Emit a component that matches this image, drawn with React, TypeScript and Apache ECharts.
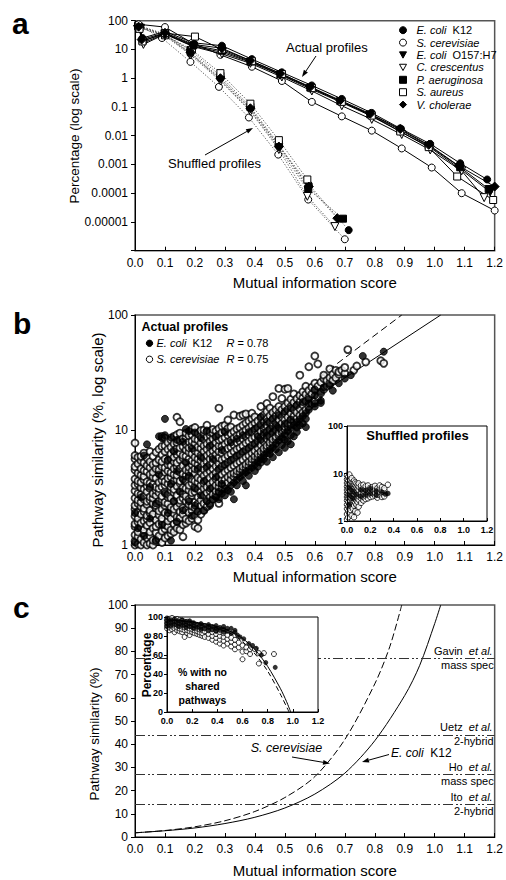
import React, { useEffect, useRef } from 'react';
import * as echarts from 'echarts';

const FONT = '"Liberation Sans", Arial, Helvetica, sans-serif';

// ---------------- Panel a : distribution of mutual information scores ----------------
const aSpeciesNames = ['E. coli K12', 'S. cerevisiae', 'E. coli O157:H7', 'C. crescentus', 'P. aeruginosa', 'S. aureus', 'V. cholerae'];

const aEcoliK12Actual = [[0.015, 60], [0.025, 25], [0.1, 42], [0.195, 17], [0.29, 13.5], [0.39, 4.6], [0.49, 1.6], [0.59, 0.56], [0.69, 0.19], [0.79, 0.062], [0.885, 0.018], [0.985, 0.0052], [1.085, 0.0011], [1.175, 0.0003]];
const aCerevisiaeActual = [[0.012, 75], [0.1, 60], [0.19, 17], [0.285, 6.5], [0.39, 2.5], [0.49, 0.8], [0.59, 0.15], [0.69, 0.047], [0.79, 0.015], [0.89, 0.0036], [0.99, 0.00078], [1.09, 0.0001], [1.2, 0.000025]];
const aEcoliO157Actual = [[0.018, 55], [0.028, 17], [0.1, 35], [0.195, 13], [0.29, 8], [0.385, 3.6], [0.485, 1.3], [0.585, 0.43], [0.685, 0.15], [0.785, 0.05], [0.885, 0.014], [0.98, 0.0042], [1.085, 0.0007], [1.185, 0.00011]];
const aCrescentusActual = [[0.018, 50], [0.028, 15], [0.1, 34], [0.195, 12.5], [0.29, 7], [0.385, 3.3], [0.49, 1.1], [0.59, 0.36], [0.69, 0.11], [0.79, 0.037], [0.89, 0.011], [0.985, 0.0032], [1.09, 0.0006], [1.165, 0.00007]];
const aAeruginosaActual = [[0.015, 58], [0.025, 20], [0.1, 36], [0.195, 14], [0.29, 9], [0.385, 3.8], [0.485, 1.35], [0.585, 0.47], [0.685, 0.16], [0.785, 0.055], [0.885, 0.016], [0.98, 0.0045], [1.085, 0.0008], [1.18, 0.00014]];
const aAureusActual = [[0.015, 52], [0.025, 19], [0.1, 37], [0.2, 28], [0.29, 10], [0.39, 3.9], [0.49, 1.4], [0.59, 0.45], [0.69, 0.15], [0.79, 0.05], [0.885, 0.014], [0.98, 0.004], [1.075, 0.00038], [1.195, 0.000058]];
const aCholeraeActual = [[0.012, 62], [0.022, 22], [0.1, 38], [0.195, 15], [0.29, 11], [0.385, 4.1], [0.485, 1.45], [0.585, 0.5], [0.685, 0.17], [0.785, 0.058], [0.885, 0.017], [0.98, 0.0048], [1.08, 0.0009], [1.2, 0.00017]];

const aEcoliK12Shuffled = [[0.01, 70], [0.1, 33], [0.185, 7], [0.285, 0.95], [0.385, 0.085], [0.48, 0.0045], [0.58, 0.0002], [0.713, 0.0000052]];
const aCerevisiaeShuffled = [[0.01, 70], [0.09, 25], [0.185, 3.7], [0.28, 0.5], [0.38, 0.043], [0.478, 0.0022], [0.578, 0.00006], [0.7, 0.0000025]];
const aEcoliO157Shuffled = [[0.012, 60], [0.1, 30], [0.185, 7.5], [0.285, 0.85], [0.385, 0.075], [0.48, 0.0038], [0.578, 0.00012]];
const aCrescentusShuffled = [[0.012, 58], [0.1, 30], [0.185, 6.5], [0.285, 0.8], [0.385, 0.07], [0.48, 0.0033], [0.575, 0.000078], [0.667, 0.0000069]];
const aAeruginosaShuffled = [[0.01, 65], [0.1, 32], [0.185, 9.5], [0.285, 1.2], [0.385, 0.1], [0.48, 0.005], [0.578, 0.00014], [0.694, 0.000013]];
const aAureusShuffled = [[0.012, 62], [0.1, 31], [0.19, 9.8], [0.285, 1.5], [0.385, 0.13], [0.48, 0.007], [0.575, 0.0003]];
const aCholeraeShuffled = [[0.01, 68], [0.1, 34], [0.185, 8], [0.285, 1.0], [0.385, 0.09], [0.48, 0.0042], [0.58, 0.00017], [0.675, 0.0000135]];

const aYTickLabels = ['', '0.00001', '0.0001', '0.001', '0.01', '0.1', '1', '10', '100']; // 1e-6 .. 1e2

// ---------------- Panel b : pathway similarity vs MI (log) ----------------
// each row: [x, y1, y2, ...]
const bCerevisiaeCols: number[][] = [
  [0.00, 1.0, 1.08, 1.22, 1.45, 1.52, 1.78, 2.05, 2.2, 2.55, 2.95, 3.3, 3.75, 4.5, 4.8, 5.6, 6.0, 7.7],
  [0.01, 1.02, 1.18, 1.3, 1.58, 1.7, 1.92, 2.3, 2.45, 2.8, 3.4, 3.6, 4.2, 5.1, 5.8],
  [0.02, 1.0, 1.12, 1.42, 1.55, 1.85, 2.15, 2.35, 2.75, 3.15, 3.5, 4.05, 4.6, 5.4, 5.9],
  [0.03, 1.05, 1.25, 1.35, 1.62, 1.95, 2.08, 2.5, 2.65, 3.05, 3.7, 3.95, 4.45, 5.2, 6.3],
  [0.04, 1.0, 1.15, 1.48, 1.68, 1.8, 2.25, 2.4, 2.9, 3.25, 3.55, 4.35, 4.9, 5.7],
  [0.05, 1.03, 1.2, 1.3, 1.56, 1.9, 2.0, 2.45, 2.62, 3.1, 3.45, 4.1, 4.7, 5.3, 6.5],
  [0.06, 1.0, 1.1, 1.4, 1.75, 1.85, 2.3, 2.55, 2.8, 3.35, 3.9, 4.3, 5.0, 5.9],
  [0.07, 1.08, 1.28, 1.45, 1.65, 2.1, 2.2, 2.7, 3.0, 3.2, 3.8, 4.6, 5.2, 6.4],
  [0.08, 1.12, 1.2, 1.52, 1.82, 1.98, 2.4, 2.85, 3.1, 3.5, 4.2, 4.5, 5.5, 6.8],
  [0.09, 1.05, 1.32, 1.6, 1.7, 2.05, 2.5, 2.65, 3.2, 3.65, 4.0, 4.8, 5.3, 6.1, 7.2, 8.8],
  [0.10, 1.15, 1.38, 1.5, 1.9, 2.2, 2.35, 2.9, 3.3, 3.55, 4.3, 4.7, 5.6, 6.5, 7.3, 8.5],
  [0.11, 1.2, 1.45, 1.62, 1.8, 2.28, 2.6, 2.75, 3.4, 3.8, 4.4, 5.0, 5.4, 6.8, 7.8],
  [0.12, 1.25, 1.35, 1.7, 2.0, 2.12, 2.55, 3.0, 3.2, 3.9, 4.25, 4.9, 5.6, 6.2, 7.1, 8.2],
  [0.13, 1.3, 1.52, 1.88, 2.05, 2.4, 2.85, 3.05, 3.6, 4.1, 4.6, 5.3, 5.8, 6.6, 7.6, 8.8],
  [0.14, 1.4, 1.6, 1.75, 2.15, 2.6, 2.7, 3.25, 3.7, 4.05, 4.8, 5.2, 6.1, 6.9, 7.8, 9.1, 12.9],
  [0.15, 1.36, 1.72, 1.95, 2.3, 2.45, 2.95, 3.45, 3.6, 4.3, 4.6, 5.5, 6.3, 7.0, 8.1, 9.4, 11.8],
  [0.16, 1.18, 1.5, 1.85, 2.1, 2.55, 2.8, 3.15, 3.8, 4.15, 4.9, 5.7, 6.0, 7.2, 8.4],
  [0.17, 1.55, 1.68, 2.02, 2.4, 2.65, 3.1, 3.6, 4.0, 4.5, 5.3, 5.9, 6.7, 7.5, 8.6, 9.4],
  [0.18, 1.62, 1.92, 2.25, 2.5, 3.0, 3.3, 3.9, 4.35, 4.75, 5.6, 6.4, 7.0, 7.9, 8.9],
  [0.19, 1.7, 2.0, 2.18, 2.7, 2.85, 3.45, 3.75, 4.4, 5.0, 5.4, 6.2, 7.3, 8.0, 9.1, 10.2],
  [0.20, 1.45, 1.8, 2.1, 2.35, 2.9, 3.2, 3.6, 4.2, 4.6, 5.2, 5.8, 6.6, 7.6, 8.4, 9.6, 10.5],
  [0.21, 1.4, 1.65, 1.95, 2.28, 2.6, 3.05, 3.5, 3.85, 4.5, 5.0, 5.6, 6.3, 7.1, 8.2, 9.3],
  [0.22, 1.85, 2.2, 2.45, 2.9, 3.3, 3.7, 4.3, 4.75, 5.4, 6.0, 6.9, 7.7, 8.8, 9.9],
  [0.23, 2.0, 2.3, 2.7, 3.1, 3.45, 4.0, 4.55, 5.1, 5.75, 6.5, 7.3, 8.3, 9.2, 10],
  [0.24, 2.15, 2.45, 2.85, 3.2, 3.65, 4.2, 4.7, 5.3, 6.0, 6.8, 7.6, 8.7, 9.7, 11],
  [0.25, 2.3, 2.6, 2.95, 3.4, 3.85, 4.4, 5.0, 5.6, 6.3, 7.1, 8.0, 9.0, 9.6],
  [0.26, 2.5, 2.75, 3.15, 3.55, 4.05, 4.6, 5.2, 5.9, 6.6, 7.4, 8.4, 9.4, 10.1],
  [0.27, 2.7, 2.95, 3.3, 3.75, 4.25, 4.85, 5.5, 6.1, 6.9, 7.8, 8.7, 9.8],
  [0.28, 2.3, 2.9, 3.2, 3.5, 3.95, 4.5, 5.1, 5.75, 6.5, 7.3, 8.2, 9.1, 10.3, 15.5],
  [0.29, 3.1, 3.4, 3.7, 4.1, 4.8, 5.5, 6.3, 7.2, 8.3, 9.5, 10.8],
  [0.30, 3.3, 3.7, 4.3, 5.0, 5.7, 6.6, 7.5, 8.6, 9.8, 11],
  [0.31, 3.5, 3.9, 4.5, 5.2, 6.0, 6.9, 7.9, 9.0, 10.3, 12.2],
  [0.32, 3.7, 4.1, 4.7, 5.4, 6.2, 7.1, 8.1, 9.3, 10.6],
  [0.33, 3.9, 4.2, 4.9, 5.6, 6.5, 7.4, 8.5, 9.7, 13.5],
  [0.34, 4.1, 4.4, 5.1, 5.9, 6.8, 7.8, 8.9, 10.2],
  [0.35, 4.3, 4.6, 5.3, 6.1, 7.0, 8.0, 9.2, 10.5, 13.2],
  [0.36, 4.5, 4.8, 5.5, 6.4, 7.3, 8.4, 9.6, 11, 13.5],
  [0.37, 4.7, 5.0, 5.8, 6.7, 7.7, 8.8, 10, 11.5, 13.8],
  [0.38, 4.9, 5.3, 6.0, 6.9, 8.0, 9.1, 10.4, 12],
  [0.39, 5.2, 5.6, 6.3, 7.3, 8.4, 9.6, 11, 12.6, 14],
  [0.40, 5.5, 5.9, 6.6, 7.6, 8.7, 10, 11.5, 13],
  [0.41, 5.8, 6.2, 7.0, 8.0, 9.2, 10.5, 12],
  [0.42, 6.1, 6.5, 7.4, 8.5, 9.7, 11.2, 12.8, 16],
  [0.43, 6.5, 6.9, 7.9, 9.0, 10.3, 11.8, 13.5],
  [0.44, 6.9, 7.3, 8.4, 9.6, 11, 12.5, 14.5, 17],
  [0.45, 7.3, 7.8, 8.8, 10.1, 11.6, 13.3, 15.5],
  [0.46, 7.8, 8.3, 9.4, 10.8, 12.4, 14.2, 19.5],
  [0.47, 8.3, 8.8, 10, 11.5, 13.2, 15],
  [0.48, 8.9, 9.4, 10.7, 12.3, 14, 16, 23],
  [0.49, 9.5, 10, 11.4, 13, 15, 18.8],
  [0.50, 10.1, 10.7, 12.2, 14, 16, 22.6],
  [0.51, 10.7, 11.4, 13, 15, 17.2, 23],
  [0.52, 11.3, 12.3, 14, 16, 18.5],
  [0.53, 12, 13.2, 15.1, 17.3, 20.6],
  [0.54, 12.6, 14.2, 16.3, 18.7],
  [0.55, 13.4, 15.3, 17.5, 20, 30],
  [0.56, 14.2, 16.5, 19, 21.5],
  [0.57, 15, 17.8, 20.4, 24],
  [0.58, 16, 19.2, 22, 35.5],
  [0.59, 17, 20.5, 23.5],
  [0.60, 18, 22.3, 25.5, 44],
  [0.61, 19.5, 24, 37.5],
  [0.62, 21, 26],
  [0.63, 22.6, 28, 30],
  [0.64, 24, 27],
  [0.65, 25.5, 28.5, 34],
  [0.66, 27, 30.5],
  [0.67, 28.5, 33],
  [0.68, 30.5, 32],
  [0.69, 33],
  [0.70, 31, 35],
  [0.71, 50],
  [0.73, 33],
  [0.74, 36],
  [0.77, 39],
  [0.82, 40],
  [0.83, 38],
];

const bEcoliCols: number[][] = [
  [0.00, 1.05, 1.9], [0.01, 1.4], [0.02, 2.6], [0.03, 6.0, 1.2], [0.04, 7.5], [0.05, 1.7, 3.2],
  [0.07, 1.1, 2.3], [0.08, 8.8, 4.1], [0.09, 8.5, 1.5], [0.10, 9.0, 12.5, 2.8], [0.11, 1.9, 5.5],
  [0.12, 1.09, 8.6, 3.4], [0.13, 2.4, 6.5], [0.14, 8.2, 1.6, 4.4], [0.15, 2.9], [0.16, 7.9, 3.7, 2.0],
  [0.17, 10.2, 5.2], [0.18, 2.4, 9.8, 4.0], [0.19, 1.8, 6.9], [0.20, 9.5, 3.1, 2.2], [0.21, 1.95, 4.6],
  [0.22, 2.7, 8.5, 5.8], [0.23, 3.6, 2.0], [0.24, 2.4, 9.9, 4.8], [0.25, 2.2, 7.3, 3.1], [0.26, 2.5, 5.6],
  [0.27, 2.6, 3.9, 8.8], [0.28, 2.5, 2.9, 4.6], [0.29, 2.8, 3.4, 6.7], [0.30, 2.7, 3.1, 5.0, 9.6],
  [0.31, 3.0],
  [0.32, 2.9, 3.3, 5.5, 7.8],
  [0.33, 2.5, 3.5],
  [0.34, 3.3, 3.7, 6.0, 8.4],
  [0.35, 3.9],
  [0.36, 3.6, 4.1, 6.5, 9.0],
  [0.37, 3.3, 4.3],
  [0.38, 4.0, 4.5, 7.0, 9.6],
  [0.39, 4.7],
  [0.40, 4.4, 5.0, 7.6, 10.3],
  [0.41, 4.8, 5.3, 8.8],
  [0.42, 5.2, 5.6, 8.2, 11, 13],
  [0.43, 5.6, 6.0, 9.5],
  [0.44, 5.3, 6.3, 8.9, 11.8],
  [0.45, 6.2, 6.7, 10.3],
  [0.46, 5.8, 7.1, 9.6, 12.6],
  [0.47, 6.8, 7.6, 11],
  [0.48, 6.4, 8.1, 10.4, 13.5],
  [0.49, 7.4, 8.6],
  [0.50, 7.0, 8.2, 9.2, 11.3, 14.5],
  [0.51, 8.0, 9.8],
  [0.52, 7.5, 9.0, 10.4, 12.3, 15.5],
  [0.53, 8.8, 11],
  [0.54, 9.6, 10.5, 11.7, 16.5],
  [0.55, 11, 12.4],
  [0.56, 11.4, 13.2, 17.5],
  [0.57, 10.6, 12.5, 14],
  [0.58, 15, 17, 18.6],
  [0.60, 16, 17, 20, 22.5],
  [0.62, 17.2, 18, 21.5],
  [0.63, 23.5],
  [0.65, 24.5],
  [0.66, 22],
  [0.68, 25.5],
  [0.70, 28],
  [0.72, 30],
  [0.76, 44],
  [0.83, 48],
];

// regression lines (straight on log scale)
const bEcoliFit = [[0, 1.8], [1.02, 100]];
const bCerevisiaeFit = [[0, 1.8], [0.89, 100]];
const bYTickLabels = ['1', '10', '100'];

// inset: shuffled profiles
const bShuffledOpenCols: number[][] = [
  [0.00, 1.1, 1.4, 1.8, 2.2, 2.7, 3.2, 3.8, 4.5, 5.3, 6.3, 7.5, 9],
  [0.01, 1.2, 1.6, 2.0, 2.5, 3.0, 3.5, 4.1, 4.9, 5.8, 7.0, 8.5],
  [0.02, 1.5, 1.9, 2.3, 2.8, 3.3, 3.9, 4.6, 5.5, 6.5, 7.8, 9.5],
  [0.03, 1.7, 2.1, 2.6, 3.1, 3.6, 4.3, 5.1, 6.0, 7.2],
  [0.04, 1.3, 2.0, 2.4, 2.9, 3.4, 4.0, 4.7, 5.6, 6.6, 8],
  [0.05, 1.8, 2.3, 2.8, 3.3, 3.9, 4.6, 5.4, 6.4],
  [0.06, 1.2, 2.1, 2.6, 3.1, 3.6, 4.3, 5.0, 6.0, 7.1],
  [0.07, 1.6, 2.4, 2.9, 3.4, 4.0, 4.7, 5.5, 6.5],
  [0.08, 2.2, 2.7, 3.2, 3.7, 4.4, 5.2, 6.1],
  [0.09, 1.5, 2.5, 3.0, 3.5, 4.1, 4.8, 5.7],
  [0.10, 2.0, 2.8, 3.3, 3.8, 4.5, 5.3, 6.2],
  [0.12, 2.4, 3.0, 3.5, 4.1, 4.8, 5.6],
  [0.14, 2.7, 3.2, 3.7, 4.3, 5.0, 5.8],
  [0.16, 2.9, 3.4, 4.0, 4.6, 5.4],
  [0.18, 3.0, 3.5, 4.1, 4.8, 5.6],
  [0.20, 3.2, 3.7, 4.3, 5.0],
  [0.22, 3.3, 3.9, 4.5, 5.2],
  [0.24, 3.4, 4.0, 4.7, 5.5],
  [0.26, 3.1, 3.6, 4.2, 4.9],
  [0.28, 3.5, 4.1, 4.8, 5.6],
  [0.30, 3.2, 3.8, 4.5, 5.2],
  [0.32, 3.3, 4.4, 4.9],
  [0.35, 5.8],
];
const bShuffledFilledCols: number[][] = [
  [0.02, 2.2, 3.5, 5.0],
  [0.05, 3.0, 4.2],
  [0.08, 3.6],
  [0.12, 3.3, 4.5],
  [0.16, 3.6, 4.4],
  [0.20, 3.8, 4.8],
  [0.25, 3.5, 4.3],
  [0.30, 4.0],
  [0.33, 3.7],
  [0.35, 3.8],
];

// ---------------- Panel c : pathway similarity (linear) ----------------
const cEcoliCurve = [[0, 1.8], [0.1, 2.7], [0.2, 3.9], [0.3, 5.8], [0.4, 8.5], [0.5, 12.5], [0.6, 18.5], [0.7, 27.5], [0.8, 41.5], [0.9, 61], [0.95, 74], [1.0, 92], [1.02, 100]];
const cCerevisiaeCurve = [[0, 1.8], [0.1, 2.8], [0.2, 4.4], [0.3, 7], [0.4, 11], [0.5, 17], [0.6, 26], [0.7, 42], [0.8, 66], [0.85, 82], [0.89, 100]];
const cRefValues = [77, 44, 27, 14];
const cRefNames = ['Gavin', 'Uetz', 'Ho', 'Ito'];
const cRefMethods = ['mass spec', '2-hybrid', 'mass spec', '2-hybrid'];

// inset: % with no shared pathways
const cInsetCerevisiaeCols: number[][] = [
  [0.00, 88, 91, 94, 97], [0.02, 86, 89, 92, 95, 98], [0.04, 87, 90, 93, 96, 99], [0.06, 84, 88, 91, 94, 97],
  [0.08, 86, 89, 92, 95, 98], [0.10, 85, 88, 91, 94, 97], [0.12, 84, 87, 90, 93, 96], [0.14, 79, 86, 89, 92, 95],
  [0.16, 83, 86, 89, 92, 95], [0.18, 81, 85, 88, 91, 94], [0.20, 84, 87, 90, 93], [0.22, 83, 86, 89, 92],
  [0.24, 82, 85, 88, 91], [0.26, 81, 84, 87, 90], [0.28, 80, 83, 86, 89], [0.30, 79, 85, 88],
  [0.33, 78, 82, 86], [0.36, 76, 80, 84, 87], [0.39, 74, 78, 82, 86], [0.42, 72, 76, 80, 84],
  [0.45, 70, 75, 79, 83], [0.48, 72, 77, 81], [0.51, 69, 74, 78], [0.54, 66, 71, 76], [0.57, 68, 73],
  [0.60, 55.5, 63.5, 70], [0.63, 64, 68], [0.66, 61, 66], [0.70, 66], [0.73, 51, 62], [0.77, 62], [0.85, 61],
];
const cInsetEcoliCols: number[][] = [
  [0.00, 90, 93, 96, 99], [0.03, 91, 94, 97], [0.06, 92, 95, 98], [0.09, 90, 93, 96], [0.12, 91, 94, 97],
  [0.15, 89, 92, 95], [0.18, 90, 93, 96], [0.21, 88, 91, 94], [0.24, 89, 92], [0.27, 87, 90, 93],
  [0.30, 88, 91], [0.33, 86, 89, 92], [0.36, 87, 90], [0.39, 85, 88, 91], [0.42, 86, 89],
  [0.45, 84, 87, 90], [0.48, 85, 88], [0.51, 83, 88], [0.54, 84, 86], [0.56, 81], [0.58, 79],
  [0.61, 77], [0.65, 72], [0.68, 70], [0.71, 67], [0.75, 60], [0.785, 52], [0.86, 47],
];
const cInsetEcoliCurve = [[0, 97], [0.1, 96.5], [0.2, 95], [0.3, 93], [0.4, 90], [0.5, 85], [0.6, 77.5], [0.7, 65.5], [0.8, 48], [0.9, 25], [0.95, 11], [0.983, 0]];
const cInsetCerevisiaeCurve = [[0, 97], [0.1, 96], [0.2, 94.5], [0.3, 92], [0.4, 88], [0.5, 83], [0.6, 74], [0.7, 61], [0.8, 43], [0.9, 19], [0.97, 0]];

// ---------------- helpers ----------------
const colsToPoints = (cols: number[][]) => cols.flatMap(([x, ...ys]) => ys.map((y) => [x, y]));
const fmt1 = (v: number) => v.toFixed(1);
const logLabel = (labels: string[], offset: number) => (v: number) => labels[Math.round(Math.log10(v)) + offset] ?? '';

const aSymbols = [
  { symbol: 'circle', rotate: 0, size: 7, fill: '#000', icon: 'circle' },
  { symbol: 'circle', rotate: 0, size: 7, fill: '#fff', icon: 'circle' },
  { symbol: 'triangle', rotate: 180, size: 8, fill: '#000', icon: 'path://M0,0L10,0L5,9Z' },
  { symbol: 'triangle', rotate: 180, size: 8, fill: '#fff', icon: 'path://M0,0L10,0L5,9Z' },
  { symbol: 'rect', rotate: 0, size: 7, fill: '#000', icon: 'rect' },
  { symbol: 'rect', rotate: 0, size: 7, fill: '#fff', icon: 'rect' },
  { symbol: 'diamond', rotate: 0, size: 9, fill: '#000', icon: 'diamond' },
];

function arrow(x1: number, y1: number, x2: number, y2: number) {
  const ang = Math.atan2(y2 - y1, x2 - x1);
  const L = 7, W = 2.4;
  const bx = x2 - L * Math.cos(ang), by = y2 - L * Math.sin(ang);
  const px = -Math.sin(ang) * W, py = Math.cos(ang) * W;
  return [
    { type: 'line', z: 100, silent: true, shape: { x1, y1, x2: bx, y2: by }, style: { stroke: '#000', lineWidth: 1 } },
    { type: 'polygon', z: 100, silent: true, shape: { points: [[x2, y2], [bx + px, by + py], [bx - px, by - py]] }, style: { fill: '#000' } },
  ];
}

function text(x: number, y: number, t: string, o: any = {}) {
  return {
    type: 'text', z: 100, silent: true, x, y, rotation: o.rotation ?? 0,
    style: {
      text: t, fill: '#000', fontFamily: FONT, fontSize: o.size ?? 12, fontWeight: o.weight ?? 'normal',
      fontStyle: o.style ?? 'normal', align: o.align ?? 'left', verticalAlign: 'middle',
      lineHeight: o.lineHeight, rich: o.rich,
    },
  };
}

const italicRich = (size: number) => ({
  i: { fontStyle: 'italic', fontSize: size, fontFamily: FONT, color: '#000' },
  n: { fontSize: size, fontFamily: FONT, color: '#000' },
});

function mainX(gridIndex: number) {
  return {
    type: 'value', gridIndex, min: 0, max: 1.2, interval: 0.1,
    name: 'Mutual information score', nameLocation: 'middle', nameGap: 24,
    nameTextStyle: { fontFamily: FONT, fontSize: 15, color: '#000' },
    axisLine: { show: true, lineStyle: { color: '#000', width: 1 } },
    axisTick: { show: true, inside: true, length: 4, lineStyle: { color: '#000' } },
    axisLabel: { fontFamily: FONT, fontSize: 12, color: '#000', margin: 6, formatter: fmt1 },
    splitLine: { show: false },
  };
}

function mainY(gridIndex: number) {
  return {
    gridIndex,
    axisLine: { show: true, lineStyle: { color: '#000', width: 1 } },
    axisTick: { show: true, length: 4, lineStyle: { color: '#000' } },
    splitLine: { show: false }, minorTick: { show: false },
  };
}

function insetAxisCommon() {
  return {
    z: 12,
    axisLine: { show: true, onZero: false, lineStyle: { color: '#000', width: 1 } },
    axisTick: { show: true, length: 3, lineStyle: { color: '#000' } },
    axisLabel: { fontFamily: FONT, fontSize: 9, fontWeight: 'bold', color: '#000', margin: 4 },
    splitLine: { show: false },
  };
}

export default function App() {
  const ref = useRef<HTMLDivElement>(null);

  useEffect(() => {
    if (!ref.current) return;
    const chart = echarts.init(ref.current, undefined, { renderer: 'svg' });

    const series: any[] = [];
    const aActual = [aEcoliK12Actual, aCerevisiaeActual, aEcoliO157Actual, aCrescentusActual, aAeruginosaActual, aAureusActual, aCholeraeActual];
    const aShuffled = [aEcoliK12Shuffled, aCerevisiaeShuffled, aEcoliO157Shuffled, aCrescentusShuffled, aAeruginosaShuffled, aAureusShuffled, aCholeraeShuffled];

    aSpeciesNames.forEach((name, i) => {
      const s = aSymbols[i];
      series.push({
        type: 'line', name: name + ' (shuffled)', xAxisIndex: 0, yAxisIndex: 0, data: aShuffled[i], z: 2,
        symbol: s.symbol, symbolRotate: s.rotate, symbolSize: s.size,
        itemStyle: { color: s.fill, borderColor: '#000', borderWidth: 1 },
        lineStyle: { color: '#555', width: 1, type: [1.2, 1.8] }, silent: true,
      });
    });
    aSpeciesNames.forEach((name, i) => {
      const s = aSymbols[i];
      series.push({
        type: 'line', name, xAxisIndex: 0, yAxisIndex: 0, data: aActual[i], z: 3,
        symbol: s.symbol, symbolRotate: s.rotate, symbolSize: s.size,
        itemStyle: { color: s.fill, borderColor: '#000', borderWidth: 1 },
        lineStyle: { color: '#000', width: 1 }, silent: true,
      });
    });

    // panel b
    series.push(
      { type: 'line', name: 'b E. coli fit', xAxisIndex: 1, yAxisIndex: 1, data: bEcoliFit, showSymbol: false, symbol: 'none', lineStyle: { color: '#000', width: 1 }, z: 1, silent: true },
      { type: 'line', name: 'b S. cerevisiae fit', xAxisIndex: 1, yAxisIndex: 1, data: bCerevisiaeFit, showSymbol: false, symbol: 'none', lineStyle: { color: '#000', width: 1, type: [7, 4] }, z: 1, silent: true },
      { type: 'scatter', name: 'b S. cerevisiae', xAxisIndex: 1, yAxisIndex: 1, data: colsToPoints(bCerevisiaeCols), symbol: 'circle', symbolSize: 7, itemStyle: { color: '#fff', borderColor: '#000', borderWidth: 1.8 }, z: 2, silent: true },
      { type: 'scatter', name: 'b E. coli K12', xAxisIndex: 1, yAxisIndex: 1, data: colsToPoints(bEcoliCols), symbol: 'circle', symbolSize: 7, itemStyle: { color: '#000', borderColor: '#000', borderWidth: 1 }, z: 3, silent: true },
      { type: 'scatter', name: 'b shuffled open', xAxisIndex: 2, yAxisIndex: 2, data: colsToPoints(bShuffledOpenCols), symbol: 'circle', symbolSize: 5.5, itemStyle: { color: '#fff', borderColor: '#000', borderWidth: 1 }, z: 11, silent: true },
      { type: 'scatter', name: 'b shuffled filled', xAxisIndex: 2, yAxisIndex: 2, data: colsToPoints(bShuffledFilledCols), symbol: 'circle', symbolSize: 5.5, itemStyle: { color: '#000' }, z: 11, silent: true },
    );

    // panel c
    const refRich = { i: { fontStyle: 'italic', fontSize: 11, fontFamily: FONT, color: '#000' } };
    series.push(
      {
        type: 'line', name: 'c E. coli K12', xAxisIndex: 3, yAxisIndex: 3, data: cEcoliCurve, smooth: 0.3, showSymbol: false, symbol: 'none',
        lineStyle: { color: '#000', width: 1 }, z: 3, silent: true,
        markLine: {
          silent: true, symbol: ['none', 'none'], animation: false,
          lineStyle: { color: '#333', width: 1, type: [10, 3, 2, 2, 2, 3] },
          label: { fontFamily: FONT, fontSize: 11, color: '#000' },
          data: cRefValues.flatMap((v, i) => [
            { yAxis: v, label: { position: 'insideEndTop', distance: 2, formatter: () => `${cRefNames[i]}  {i|et al.}`, rich: refRich } },
            { yAxis: v, lineStyle: { color: 'rgba(0,0,0,0)', width: 0 }, label: { color: '#000', position: 'insideEndBottom', distance: 1, formatter: () => cRefMethods[i] } },
          ]),
        },
      },
      { type: 'line', name: 'c S. cerevisiae', xAxisIndex: 3, yAxisIndex: 3, data: cCerevisiaeCurve, smooth: 0.3, showSymbol: false, symbol: 'none', lineStyle: { color: '#000', width: 1, type: [7, 3] }, z: 3, silent: true },
      { type: 'scatter', name: 'c inset S. cerevisiae', xAxisIndex: 4, yAxisIndex: 4, data: colsToPoints(cInsetCerevisiaeCols), symbol: 'circle', symbolSize: 5, itemStyle: { color: '#fff', borderColor: '#000', borderWidth: 1 }, z: 11, silent: true },
      { type: 'scatter', name: 'c inset E. coli K12', xAxisIndex: 4, yAxisIndex: 4, data: colsToPoints(cInsetEcoliCols), symbol: 'circle', symbolSize: 5, itemStyle: { color: '#000' }, z: 11, silent: true },
      { type: 'line', name: 'c inset E. coli fit', xAxisIndex: 4, yAxisIndex: 4, data: cInsetEcoliCurve, smooth: 0.3, showSymbol: false, symbol: 'none', lineStyle: { color: '#000', width: 1 }, z: 12, silent: true },
      { type: 'line', name: 'c inset S. cerevisiae fit', xAxisIndex: 4, yAxisIndex: 4, data: cInsetCerevisiaeCurve, smooth: 0.3, showSymbol: false, symbol: 'none', lineStyle: { color: '#000', width: 1, type: [5, 3] }, z: 12, silent: true },
    );

    const R90 = Math.PI / 2;
    const graphic: any[] = [
      text(12, 23, 'a', { size: 30, weight: 'bold' }),
      text(13, 323, 'b', { size: 30, weight: 'bold' }),
      text(13, 607, 'c', { size: 30, weight: 'bold' }),
      // y-axis titles
      text(74, 136, 'Percentage (log scale)', { size: 13.5, align: 'center', rotation: R90 }),
      text(97.5, 440, 'Pathway similarity (%, log scale)', { size: 15, align: 'center', rotation: R90 }),
      text(94.5, 734, 'Pathway similarity (%)', { size: 13.5, align: 'center', rotation: R90 }),
      text(147, 665, 'Percentage', { size: 12, weight: 'bold', align: 'center', rotation: R90 }),
      // panel a annotations
      text(286, 47.5, 'Actual profiles', { size: 13 }),
      ...arrow(316, 56, 302, 77),
      text(168, 163, 'Shuffled profiles', { size: 13 }),
      ...arrow(205, 155, 253, 128),
      // panel b legend
      text(141.5, 326.7, 'Actual profiles', { size: 12.5, weight: 'bold' }),
      { type: 'circle', z: 100, silent: true, shape: { cx: 149.5, cy: 343.3, r: 3.2 }, style: { fill: '#000', stroke: '#000', lineWidth: 1 } },
      text(156.5, 343.3, '{i|E. coli}  {n|K12}', { size: 11, rich: italicRich(11) }),
      text(226.5, 343.3, '{i|R}{n| = 0.78}', { size: 11, rich: italicRich(11) }),
      { type: 'circle', z: 100, silent: true, shape: { cx: 149.5, cy: 359.3, r: 3.2 }, style: { fill: '#fff', stroke: '#000', lineWidth: 1 } },
      text(156.5, 359.3, '{i|S. cerevisiae}', { size: 11, rich: italicRich(11) }),
      text(226.5, 359.3, '{i|R}{n| = 0.75}', { size: 11, rich: italicRich(11) }),
      text(417.5, 435, 'Shuffled profiles', { size: 13, weight: 'bold', align: 'center' }),
      // panel c annotations
      text(286.5, 747.7, 'S. cerevisiae', { size: 12.5, style: 'italic', align: 'center' }),
      ...arrow(292, 757, 330, 763.5),
      text(391, 753.3, '{i|E. coli}  {n|K12}', { size: 12, rich: italicRich(12) }),
      ...arrow(389, 754.5, 362, 762),
      text(202.5, 686, '% with no\nshared\npathways', { size: 10.5, weight: 'bold', align: 'center', lineHeight: 14.2 }),
    ];

    const option: any = {
      animation: false,
      backgroundColor: '#fff',
      textStyle: { fontFamily: FONT },
      grid: [
        { left: 135, top: 20.7, width: 363, height: 230, show: true, borderColor: '#555', borderWidth: 1.5, backgroundColor: 'transparent' },
        { left: 135, top: 315, width: 363, height: 230, show: true, borderColor: '#555', borderWidth: 1.5, backgroundColor: 'transparent' },
        { left: 347, top: 426, width: 140, height: 95, show: true, borderColor: '#000', borderWidth: 1, backgroundColor: '#fff', z: 10 },
        { left: 135, top: 605, width: 363, height: 232, show: true, borderColor: '#555', borderWidth: 1.5, backgroundColor: 'transparent' },
        { left: 167, top: 617, width: 151, height: 95, show: true, borderColor: '#000', borderWidth: 1, backgroundColor: '#fff', z: 10 },
      ],
      xAxis: [
        mainX(0),
        mainX(1),
        { ...insetAxisCommon(), type: 'value', gridIndex: 2, min: 0, max: 1.2, interval: 0.2, axisTick: { show: true, inside: true, length: 3, lineStyle: { color: '#000' } }, axisLabel: { ...insetAxisCommon().axisLabel, formatter: fmt1 } },
        { ...mainX(3), nameGap: 26 },
        { ...insetAxisCommon(), type: 'value', gridIndex: 4, min: 0, max: 1.2, interval: 0.2, axisTick: { show: true, inside: true, length: 3, lineStyle: { color: '#000' } }, axisLabel: { ...insetAxisCommon().axisLabel, formatter: fmt1 } },
      ],
      yAxis: [
        {
          ...mainY(0), type: 'log', logBase: 10, min: 0.000001, max: 100,
          axisLabel: { fontFamily: FONT, fontSize: 12, color: '#000', margin: 7, formatter: logLabel(aYTickLabels, 6) },
        },
        {
          ...mainY(1), type: 'log', logBase: 10, min: 1, max: 100,
          axisLabel: { fontFamily: FONT, fontSize: 12, color: '#000', margin: 7, formatter: logLabel(bYTickLabels, 0) },
        },
        {
          ...insetAxisCommon(), type: 'log', logBase: 10, gridIndex: 2, min: 1, max: 100,
          axisLabel: { ...insetAxisCommon().axisLabel, formatter: logLabel(bYTickLabels, 0) },
        },
        {
          ...mainY(3), type: 'value', min: 0, max: 100, interval: 10,
          axisLabel: { fontFamily: FONT, fontSize: 12, color: '#000', margin: 7 },
        },
        {
          ...insetAxisCommon(), type: 'value', gridIndex: 4, min: 0, max: 100, interval: 20,
        },
      ],
      legend: {
        orient: 'vertical', left: 399, top: 24, padding: 0, itemGap: 0, itemWidth: 7, itemHeight: 7,
        selectedMode: false,
        data: aSpeciesNames.map((name, i) => ({
          name, icon: aSymbols[i].icon,
          itemStyle: { color: aSymbols[i].fill, borderColor: '#000', borderWidth: 1 },
        })),
        textStyle: { fontFamily: FONT, fontSize: 11, color: '#000', lineHeight: 12.4, padding: [0, 0, 0, 5], rich: italicRich(11) },
        formatter: (name: string) => name.startsWith('E. coli ') ? `{i|E. coli}  {n|${name.slice(8)}}` : `{i|${name}}`,
      },
      graphic,
      series,
    };

    chart.setOption(option);
    return () => chart.dispose();
  }, []);

  return <div ref={ref} style={{ position: 'absolute', left: 0, top: 0, width: 506, height: 880 }} />;
}
